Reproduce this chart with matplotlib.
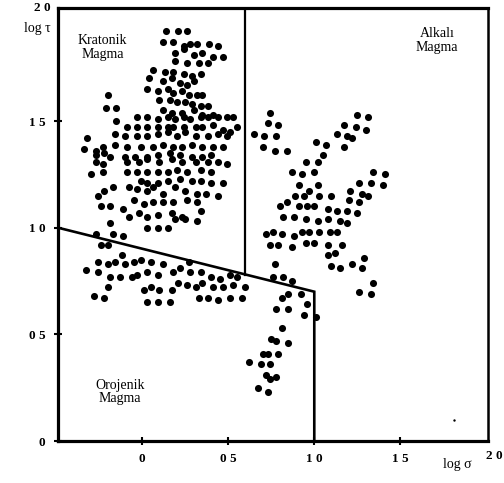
import matplotlib
matplotlib.use("Agg")
import matplotlib.pyplot as plt

# ---- data (log sigma, log tau) ----
kratonik_x = [0.14, 0.21, 0.26, 0.12, 0.18, 0.24, 0.28, 0.32, 0.39, 0.44,
              0.19, 0.24, 0.30, 0.35, 0.41, 0.47, 0.19, 0.26, 0.33, 0.38,
              0.06, 0.13, 0.18, 0.24, 0.29, 0.34, 0.04, 0.12, 0.17, 0.22,
              0.26, 0.30, 0.03, 0.09, 0.15, 0.18, 0.23, 0.27, 0.32, 0.35,
              -0.20, -0.21, -0.15, -0.15, 0.10, 0.16, 0.20, 0.25, 0.29, 0.34,
              0.38, 0.12, 0.17, 0.23, 0.30, 0.35, 0.41, -0.03, 0.03, 0.09,
              0.15, 0.19, 0.24, 0.28, 0.34, 0.38, 0.44, 0.49, 0.53, -0.09,
              -0.03, 0.03, 0.09, 0.15, 0.18, 0.24, 0.31, 0.35, 0.41, 0.47,
              0.51, 0.55, -0.32, -0.16, -0.10, -0.03, 0.03, 0.09, 0.15, 0.20,
              0.25, 0.31, 0.38, 0.44, 0.49, -0.34, -0.27, -0.23, -0.16, -0.09,
              -0.01, 0.06, 0.12, 0.18, 0.23, 0.29, 0.35, 0.41, 0.47, -0.27,
              -0.22, -0.19, -0.10, -0.04, 0.03, 0.09, 0.16, 0.22, 0.29, 0.35,
              0.40, -0.27, -0.23, -0.09, -0.02, 0.03, 0.10, 0.17, 0.23, 0.31,
              0.38, 0.44, 0.49, -0.30, -0.23, -0.09, -0.03, 0.03, 0.09, 0.15,
              0.20, 0.26, 0.34, 0.40, -0.01, 0.03, 0.09, 0.15, 0.22, 0.29,
              0.34, 0.40, 0.47, -0.26, -0.22, -0.17, -0.08, -0.03, 0.03, 0.06,
              0.12, 0.19, 0.25, 0.32, 0.37, 0.44, -0.24, -0.19, -0.11, -0.05,
              0.01, 0.06, 0.12, 0.18, 0.26, 0.32, 0.34, -0.08, -0.02, 0.03,
              0.09, 0.17, 0.23, 0.32, 0.03, 0.09, 0.15, 0.19, 0.25, -0.19]
kratonik_y = [1.92, 1.92, 1.92, 1.87, 1.87, 1.85, 1.86, 1.86, 1.86, 1.85,
              1.82, 1.84, 1.81, 1.82, 1.80, 1.80, 1.78, 1.77, 1.77, 1.77,
              1.74, 1.73, 1.73, 1.72, 1.71, 1.72, 1.70, 1.69, 1.70, 1.68,
              1.67, 1.69, 1.65, 1.64, 1.65, 1.63, 1.64, 1.62, 1.62, 1.62,
              1.62, 1.56, 1.56, 1.50, 1.60, 1.60, 1.59, 1.59, 1.58, 1.57,
              1.57, 1.55, 1.54, 1.54, 1.55, 1.53, 1.53, 1.52, 1.52, 1.51,
              1.52, 1.51, 1.52, 1.51, 1.52, 1.52, 1.52, 1.52, 1.52, 1.47,
              1.47, 1.47, 1.47, 1.47, 1.47, 1.47, 1.47, 1.47, 1.48, 1.46,
              1.45, 1.47, 1.42, 1.44, 1.43, 1.43, 1.43, 1.44, 1.45, 1.43,
              1.45, 1.43, 1.43, 1.44, 1.43, 1.37, 1.36, 1.38, 1.39, 1.38,
              1.38, 1.38, 1.39, 1.38, 1.38, 1.39, 1.38, 1.38, 1.38, 1.34,
              1.35, 1.33, 1.33, 1.33, 1.33, 1.34, 1.35, 1.34, 1.33, 1.33,
              1.34, 1.31, 1.30, 1.31, 1.31, 1.32, 1.31, 1.32, 1.31, 1.31,
              1.31, 1.31, 1.30, 1.25, 1.26, 1.26, 1.26, 1.26, 1.26, 1.26,
              1.27, 1.26, 1.27, 1.26, 1.22, 1.21, 1.21, 1.22, 1.23, 1.22,
              1.22, 1.21, 1.21, 1.15, 1.17, 1.19, 1.19, 1.18, 1.17, 1.19,
              1.16, 1.19, 1.17, 1.16, 1.16, 1.15, 1.10, 1.10, 1.09, 1.13,
              1.11, 1.12, 1.12, 1.12, 1.13, 1.12, 1.08, 1.05, 1.07, 1.05,
              1.06, 1.07, 1.05, 1.03, 1.00, 1.00, 1.00, 1.04, 1.04, 1.02]

orojenik_x = [-0.27, -0.17, -0.11, -0.24, -0.20, -0.26, -0.20, -0.16, -0.12, -0.10,
              -0.05, -0.01, 0.05, 0.12, -0.33, -0.26, -0.19, -0.13, -0.06, -0.03,
              0.03, 0.09, 0.18, 0.22, 0.27, 0.28, 0.34, 0.40, 0.45, 0.51,
              0.55, -0.20, 0.01, 0.05, 0.10, 0.17, 0.21, 0.26, 0.31, 0.35,
              0.41, 0.47, 0.53, 0.60, -0.28, -0.22, 0.03, 0.09, 0.16, 0.33,
              0.38, 0.44, 0.51, 0.58]
orojenik_y = [0.97, 0.97, 0.96, 0.92, 0.92, 0.84, 0.83, 0.84, 0.87, 0.83,
              0.84, 0.85, 0.84, 0.83, 0.80, 0.79, 0.77, 0.77, 0.77, 0.78,
              0.79, 0.78, 0.79, 0.81, 0.84, 0.79, 0.79, 0.77, 0.76, 0.78,
              0.77, 0.72, 0.71, 0.72, 0.71, 0.71, 0.74, 0.73, 0.72, 0.74,
              0.72, 0.72, 0.73, 0.72, 0.68, 0.67, 0.65, 0.65, 0.65, 0.67,
              0.67, 0.66, 0.67, 0.67]

alkali_x = [0.74, 0.73, 0.79, 0.65, 0.71, 0.78, 0.70, 0.77, 0.84, 1.25,
            1.31, 1.17, 1.24, 1.30, 1.13, 1.19, 1.22, 1.01, 1.07, 1.17,
            1.05, 1.02, 0.95, 0.87, 0.93, 1.00, 1.34, 1.41, 1.26, 1.33,
            1.40, 1.21, 1.28, 1.31, 1.20, 1.26, 1.19, 1.25, 0.91, 1.02,
            0.97, 0.89, 0.94, 1.03, 1.10, 0.84, 0.80, 0.91, 0.96, 1.00,
            1.08, 1.13, 0.82, 0.88, 0.95, 1.02, 1.08, 1.15, 1.19, 0.72,
            0.76, 0.81, 0.88, 0.93, 0.97, 1.03, 1.09, 1.13, 0.74, 0.79,
            0.87, 0.95, 1.00, 1.08, 1.16, 1.08, 1.12, 1.10, 1.15, 1.22,
            1.29, 1.28, 1.34, 1.26, 1.33]
alkali_y = [1.54, 1.49, 1.48, 1.44, 1.43, 1.43, 1.38, 1.36, 1.36, 1.53,
            1.52, 1.48, 1.47, 1.46, 1.44, 1.43, 1.42, 1.40, 1.39, 1.38,
            1.34, 1.31, 1.31, 1.26, 1.25, 1.26, 1.26, 1.25, 1.21, 1.21,
            1.20, 1.17, 1.16, 1.15, 1.13, 1.12, 1.08, 1.07, 1.20, 1.20,
            1.17, 1.15, 1.15, 1.15, 1.15, 1.12, 1.10, 1.10, 1.10, 1.10,
            1.09, 1.08, 1.05, 1.05, 1.04, 1.03, 1.04, 1.03, 1.02, 0.97,
            0.98, 0.97, 0.96, 0.98, 0.98, 0.98, 0.98, 0.98, 0.92, 0.92,
            0.91, 0.93, 0.93, 0.92, 0.92, 0.87, 0.88, 0.82, 0.81, 0.83,
            0.86, 0.81, 0.74, 0.70, 0.69]

lower_x = [0.77, 0.76, 0.82, 0.87, 0.81, 0.85, 0.92, 0.96, 0.78, 0.85,
           0.94, 1.01, 0.81, 0.75, 0.78, 0.85, 0.70, 0.73, 0.79, 0.62,
           0.69, 0.74, 0.72, 0.74, 0.78, 0.67, 0.73]
lower_y = [0.83, 0.77, 0.77, 0.75, 0.67, 0.69, 0.69, 0.64, 0.62, 0.62,
           0.59, 0.58, 0.53, 0.48, 0.47, 0.46, 0.41, 0.41, 0.41, 0.37,
           0.36, 0.36, 0.31, 0.29, 0.30, 0.25, 0.23]

speck_x = [1.81]
speck_y = [0.10]

# field boundaries
boundary_x = [-0.49, 1.0, 1.0]
boundary_y = [1.0, 0.7, 0.0]
divider_x = [0.6, 0.6]
divider_y = [2.03, 0.78]

xticks = [0, 0.5, 1.0, 1.5]
xtick_labels = ["0", "0 5", "1 0", "1 5"]
yticks = [0, 0.5, 1.0, 1.5]
ytick_labels = ["0", "0 5", "1 0", "1 5"]

plt.rcParams['font.family'] = ['Liberation Serif', 'DejaVu Serif']

fig = plt.figure(figsize=(5.04, 4.83), dpi=100)
ax = fig.add_axes([58/504, 42/483, 430/504, 433/483])
ax.set_xlim(-0.49, 2.01)
ax.set_ylim(0, 2.03)

ms = 26
for xs, ys in [(kratonik_x, kratonik_y), (orojenik_x, orojenik_y),
               (alkali_x, alkali_y), (lower_x, lower_y)]:
    ax.scatter(xs, ys, s=ms, c='black', marker='o', linewidths=0, zorder=3)
ax.scatter(speck_x, speck_y, s=3, c='black', marker='o', linewidths=0, zorder=3)

ax.plot(boundary_x, boundary_y, color='black', lw=1.9, solid_joinstyle='miter', zorder=2)
ax.plot(divider_x, divider_y, color='black', lw=1.6, zorder=2)

for side in ['left', 'bottom', 'top']:
    ax.spines[side].set_linewidth(2.3)
ax.spines['right'].set_linewidth(1.8)

ax.set_xticks(xticks)
ax.set_xticklabels(xtick_labels)
ax.set_yticks(yticks)
ax.set_yticklabels(ytick_labels)
ax.tick_params(direction='inout', length=6, width=1.5, labelsize=9.5, pad=6)
for lab in ax.get_xticklabels() + ax.get_yticklabels():
    lab.set_fontweight('bold')

# "2 0" labels at the axis ends
ax.text(-0.535, 2.03, "2 0", ha='right', va='center', fontsize=9.5, fontweight='bold',
        clip_on=False)
ax.text(2.095, -0.068, "2 0", ha='right', va='center', fontsize=9.5, fontweight='bold',
        clip_on=False)

# axis names
ax.text(-0.535, 1.935, "log τ", ha='right', va='center', fontsize=10, clip_on=False)
ax.text(1.83, -0.11, "log σ", ha='center', va='center', fontsize=10, clip_on=False)

# field names
ax.text(-0.23, 1.845, "Kratonik\nMagma", ha='center', va='center', fontsize=10,
        linespacing=1.05)
ax.text(1.715, 1.878, "Alkalı\nMagma", ha='center', va='center', fontsize=10,
        linespacing=1.05)
ax.text(-0.128, 0.23, "Orojenik\nMagma", ha='center', va='center', fontsize=10,
        linespacing=1.05)

fig.savefig("out.png", dpi=100)
